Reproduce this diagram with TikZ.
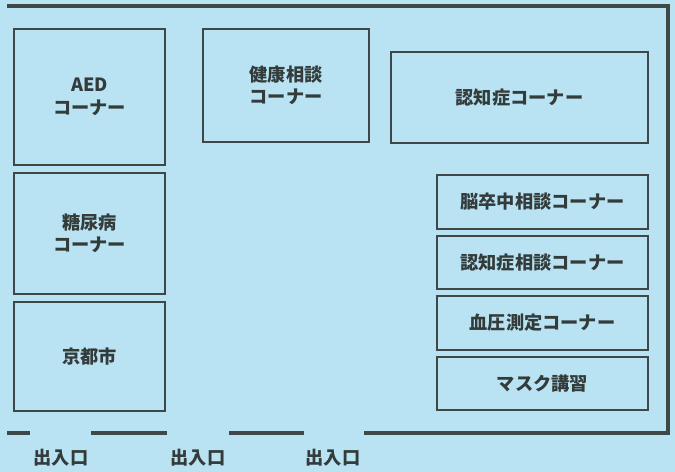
\documentclass[tikz,border=0pt]{standalone}
\usepackage{fontspec}
\setmainfont{Noto Sans CJK JP}
\usepackage{tikz}
\usetikzlibrary{positioning}
\definecolor{floorblue}{HTML}{B9E3F2}
\definecolor{wallgray}{HTML}{3E4848}
\definecolor{textgray}{HTML}{333B3B}
\tikzset{
    corner/.style={draw=wallgray, line width=1.6bp, align=center, text=textgray,
        font=\fontsize{18.3}{22.5}\selectfont\bfseries, inner sep=0pt},
    wall/.style={draw=wallgray, line width=4bp},
    gate/.style={text=textgray, font=\fontsize{18.3}{20}\selectfont\bfseries},
}

\begin{document}
\begin{tikzpicture}[x=1bp, y=-1bp]

            % Floor
            \useasboundingbox (0,0) rectangle (675,472);
            \fill[floorblue] (0,0) rectangle (675,472);

            % Walls
            \draw[wall] (7,6) -- (668,6) -- (668,433) -- (364,433);
            \draw[wall] (7,433) -- (30,433);
            \draw[wall] (91,433) -- (167,433);
            \draw[wall] (229,433) -- (304,433);

            % Left column
            \node[corner, minimum width=151bp, minimum height=136bp] (aed) at (89.5,97) {AED\\コーナー};
            \node[corner, minimum width=151bp, minimum height=121bp] (diabetes) at (89.5,233.5) {糖尿病\\コーナー};
            \node[corner, minimum width=151bp, minimum height=109bp] (kyoto) at (89.5,356.5) {京都市};

            % Top row
            \node[corner, minimum width=166bp, minimum height=113bp] (health) at (286,85.5) {健康相談\\コーナー};
            \node[corner, minimum width=257bp, minimum height=91bp] (dementia) at (519.5,97.5) {認知症コーナー};

            % Right column
            \node[corner, minimum width=211bp, minimum height=54bp] (stroke) at (542.5,202) {脳卒中相談コーナー};
            \node[corner, minimum width=211bp, minimum height=53bp] (dementiatalk) at (542.5,262.5) {認知症相談コーナー};
            \node[corner, minimum width=211bp, minimum height=54bp] (pressure) at (542.5,323) {血圧測定コーナー};
            \node[corner, minimum width=211bp, minimum height=53bp] (mask) at (542.5,383.5) {マスク講習};

            % Entrances
            \node[gate] (gate1) at (61,458) {出入口};
            \node[gate] (gate2) at (198,458) {出入口};
            \node[gate] (gate3) at (333,458) {出入口};

        \end{tikzpicture}
\end{document}
